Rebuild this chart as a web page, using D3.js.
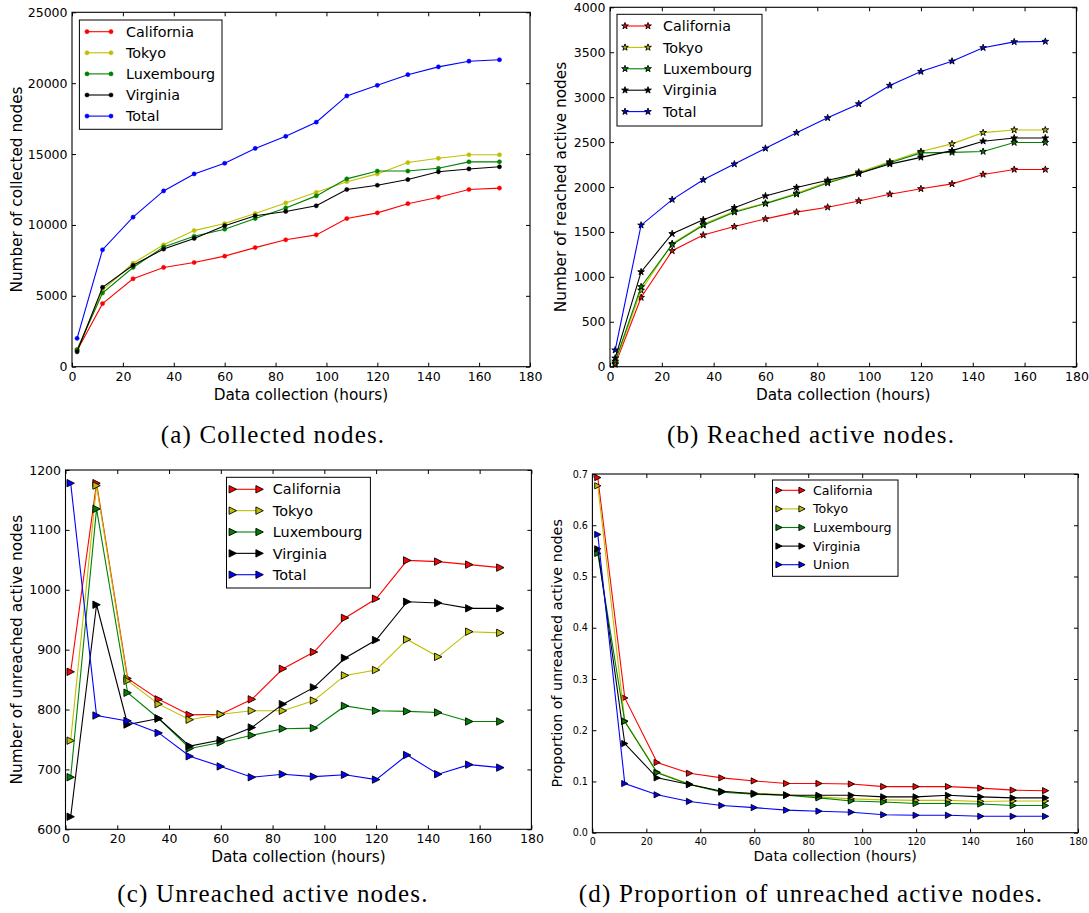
<!DOCTYPE html>
<html>
<head>
<meta charset="utf-8">
<script src="https://cdn.jsdelivr.net/npm/d3@7"></script>
<style>
  body { margin: 0; background: #fff; }
  svg { display: block; }
</style>
</head>
<body>
<svg id="fig" width="1089" height="913"></svg>
<script>
// Sampling times (hours since the start of data collection)
const hours = [2, 12, 24, 36, 48, 60, 72, 84, 96, 108, 120, 132, 144, 156, 168];
const xTickValues = [0, 20, 40, 60, 80, 100, 120, 140, 160, 180];

// (a) collected nodes
const collectedCalifornia = [1150, 4450, 6200, 7000, 7350, 7800, 8400, 8950, 9300, 10450, 10850, 11500, 11950, 12500, 12600];
const collectedTokyo      = [1200, 5400, 7300, 8600, 9600, 10100, 10800, 11550, 12300, 13050, 13600, 14400, 14700, 14950, 14950];
const collectedLuxembourg = [1200, 5200, 7000, 8450, 9200, 9700, 10450, 11200, 12050, 13250, 13800, 13800, 14000, 14450, 14450];
const collectedVirginia   = [1050, 5600, 7150, 8300, 9050, 9950, 10650, 10950, 11350, 12500, 12800, 13200, 13750, 13950, 14100];
const collectedTotal      = [2000, 8250, 10550, 12400, 13600, 14350, 15400, 16250, 17250, 19100, 19850, 20600, 21150, 21550, 21650];
const collectedYTicks = [0, 5000, 10000, 15000, 20000, 25000];

// (b) reached active nodes
const reachedCalifornia = [25, 770, 1290, 1465, 1560, 1645, 1720, 1775, 1845, 1920, 1980, 2035, 2140, 2195, 2195];
const reachedTokyo      = [40, 850, 1370, 1585, 1730, 1820, 1930, 2055, 2165, 2280, 2395, 2480, 2605, 2635, 2635];
const reachedLuxembourg = [60, 890, 1360, 1575, 1720, 1815, 1920, 2045, 2150, 2270, 2380, 2385, 2395, 2495, 2495];
const reachedVirginia   = [95, 1055, 1480, 1635, 1770, 1900, 1995, 2075, 2150, 2255, 2330, 2405, 2510, 2545, 2545];
const reachedTotal      = [185, 1575, 1860, 2080, 2255, 2430, 2605, 2770, 2925, 3130, 3285, 3400, 3550, 3615, 3620];
const reachedYTicks = [0, 500, 1000, 1500, 2000, 2500, 3000, 3500, 4000];

// (c) unreached active nodes
const unreachedCalifornia = [863, 1178, 852, 817, 791, 792, 817, 868, 896, 953, 985, 1049, 1047, 1042, 1037];
const unreachedTokyo      = [748, 1174, 848, 809, 783, 792, 798, 798, 815, 857, 866, 917, 888, 930, 928];
const unreachedLuxembourg = [687, 1135, 828, 785, 735, 745, 757, 768, 769, 806, 798, 797, 795, 780, 780];
const unreachedVirginia   = [621, 975, 775, 785, 739, 749, 770, 809, 837, 886, 916, 980, 978, 969, 969];
const unreachedTotal      = [1178, 790, 781, 761, 722, 705, 687, 692, 688, 691, 683, 724, 692, 708, 703];
const unreachedYTicks = [600, 700, 800, 900, 1000, 1100, 1200];

// (d) proportion of unreached active nodes
const proportionCalifornia = [0.693, 0.263, 0.137, 0.116, 0.107, 0.101, 0.096, 0.096, 0.095, 0.090, 0.090, 0.090, 0.087, 0.083, 0.082];
const proportionTokyo      = [0.677, 0.218, 0.118, 0.095, 0.080, 0.077, 0.074, 0.070, 0.066, 0.064, 0.063, 0.063, 0.061, 0.062, 0.062];
const proportionLuxembourg = [0.545, 0.217, 0.117, 0.094, 0.079, 0.075, 0.073, 0.068, 0.062, 0.060, 0.057, 0.057, 0.056, 0.053, 0.053];
const proportionVirginia   = [0.554, 0.174, 0.107, 0.094, 0.081, 0.076, 0.073, 0.073, 0.073, 0.070, 0.070, 0.073, 0.070, 0.068, 0.068];
const proportionUnion      = [0.582, 0.096, 0.074, 0.061, 0.053, 0.049, 0.044, 0.042, 0.040, 0.035, 0.034, 0.034, 0.032, 0.032, 0.032];
const proportionYTicks = [0, 0.1, 0.2, 0.3, 0.4, 0.5, 0.6, 0.7];

const namesWithTotal = ["California", "Tokyo", "Luxembourg", "Virginia", "Total"];
const namesWithUnion = ["California", "Tokyo", "Luxembourg", "Virginia", "Union"];
const seriesColors = ["#ff0000", "#bfbf00", "#008000", "#000000", "#0000ff"];

const xLabelText = "Data collection (hours)";
const captions = [
  "(a) Collected nodes.",
  "(b) Reached active nodes.",
  "(c) Unreached active nodes.",
  "(d) Proportion of unreached active nodes."
];

const SANS = "'DejaVu Sans', sans-serif";
const SERIF = "'Liberation Serif', 'Times New Roman', serif";
const svg = d3.select("#fig");

// Panel layout and styling
const panels = [
  {
    box: { left: 72, right: 530, top: 12.3, bottom: 366.7 },
    yDomain: [0, 25000], yTicks: collectedYTicks, yFormat: d3.format("d"),
    yLabel: "Number of collected nodes", yLabelX: 22,
    series: [collectedCalifornia, collectedTokyo, collectedLuxembourg, collectedVirginia, collectedTotal],
    names: namesWithTotal, marker: "dot", markerSize: 2.1,
    tickFont: 12.5, labelFont: 15.3, legendFont: 14.3,
    xPad: 5.4, xLabelDy: 33.3,
    legend: { x0: 79.4, x1: 222, y0: 20, y1: 129.3, line0: 87, line1: 111, textX: 126, row0: 31.7, step: 21.1 }
  },
  {
    box: { left: 610, right: 1076.4, top: 7.3, bottom: 366.7 },
    yDomain: [0, 4000], yTicks: reachedYTicks, yFormat: d3.format("d"),
    yLabel: "Number of reached active nodes", yLabelX: 566,
    series: [reachedCalifornia, reachedTokyo, reachedLuxembourg, reachedVirginia, reachedTotal],
    names: namesWithTotal, marker: "star", markerSize: 14,
    tickFont: 12.5, labelFont: 15.3, legendFont: 14.3,
    xPad: 5.4, xLabelDy: 33.3,
    legend: { x0: 617, x1: 762, y0: 14.3, y1: 126, line0: 625, line1: 648, textX: 663, row0: 26, step: 21.4 }
  },
  {
    box: { left: 65.5, right: 531.4, top: 470, bottom: 829.3 },
    yDomain: [600, 1200], yTicks: unreachedYTicks, yFormat: d3.format("d"),
    yLabel: "Number of unreached active nodes", yLabelX: 22,
    series: [unreachedCalifornia, unreachedTokyo, unreachedLuxembourg, unreachedVirginia, unreachedTotal],
    names: namesWithTotal, marker: "tri", markerSize: 3.7,
    tickFont: 12.5, labelFont: 15.3, legendFont: 14.4,
    xPad: 5.3, xLabelDy: 32.7,
    legend: { x0: 226.5, x1: 370.4, y0: 477.3, y1: 588, line0: 232.8, line1: 259.6, textX: 272.8, row0: 489.3, step: 21.35 }
  },
  {
    box: { left: 592.4, right: 1078, top: 474, bottom: 832.7 },
    yDomain: [0, 0.7], yTicks: proportionYTicks, yFormat: d3.format(".1f"),
    yLabel: "Proportion of unreached active nodes", yLabelX: 562,
    series: [proportionCalifornia, proportionTokyo, proportionLuxembourg, proportionVirginia, proportionUnion],
    names: namesWithUnion, marker: "tri", markerSize: 3.1,
    tickFont: 9.6, labelFont: 14.3, legendFont: 12.6,
    xPad: 5.0, xLabelDy: 28.3,
    legend: { x0: 772.5, x1: 898, y0: 480, y1: 576.3, line0: 779, line1: 802, textX: 813, row0: 490.3, step: 18.6 }
  }
];

function triangleRight(h) {
  return `M${h},0L${-h},${-h}L${-h},${h}Z`;
}

function drawMarker(sel, kind, size, color) {
  if (kind === "dot") {
    sel.append("circle").attr("r", size).attr("fill", color).attr("stroke", color).attr("stroke-width", 0.5);
  } else if (kind === "star") {
    sel.append("path").attr("d", d3.symbol(d3.symbolStar, size)())
      .attr("fill", color).attr("stroke", "#000").attr("stroke-width", 0.9);
  } else {
    sel.append("path").attr("d", triangleRight(size))
      .attr("fill", color).attr("stroke", "#000").attr("stroke-width", 0.9);
  }
}

function styleAxis(g, fontSize) {
  g.attr("font-family", SANS).attr("font-size", fontSize);
  g.select(".domain").remove();
  g.selectAll(".tick line").attr("stroke", "#000").attr("stroke-width", 1);
}

function drawPanel(p) {
  const b = p.box;
  const g = svg.append("g");
  const x = d3.scaleLinear().domain([0, 180]).range([b.left, b.right]);
  const y = d3.scaleLinear().domain(p.yDomain).range([b.bottom, b.top]);

  // inward ticks on all four sides
  g.append("g").attr("transform", `translate(0,${b.bottom})`)
    .call(d3.axisBottom(x).tickValues(xTickValues).tickSize(-4).tickSizeOuter(0).tickPadding(p.xPad))
    .call(a => styleAxis(a, p.tickFont));
  g.append("g").attr("transform", `translate(0,${b.top})`)
    .call(d3.axisTop(x).tickValues(xTickValues).tickSize(-4).tickSizeOuter(0).tickFormat(""))
    .call(a => styleAxis(a, p.tickFont));
  g.append("g").attr("transform", `translate(${b.left},0)`)
    .call(d3.axisLeft(y).tickValues(p.yTicks).tickSize(-4).tickSizeOuter(0).tickPadding(4.5).tickFormat(p.yFormat))
    .call(a => styleAxis(a, p.tickFont));
  g.append("g").attr("transform", `translate(${b.right},0)`)
    .call(d3.axisRight(y).tickValues(p.yTicks).tickSize(-4).tickSizeOuter(0).tickFormat(""))
    .call(a => styleAxis(a, p.tickFont));

  // series: line then markers, in plotting order
  const line = d3.line().x(d => x(d[0])).y(d => y(d[1]));
  p.series.forEach((vals, i) => {
    const pts = hours.map((h, j) => [h, vals[j]]);
    const sg = g.append("g");
    sg.append("path").attr("d", line(pts)).attr("fill", "none")
      .attr("stroke", seriesColors[i]).attr("stroke-width", 1.1);
    pts.forEach(pt => {
      const m = sg.append("g").attr("transform", `translate(${x(pt[0])},${y(pt[1])})`);
      drawMarker(m, p.marker, p.markerSize, seriesColors[i]);
    });
  });

  // frame
  g.append("rect").attr("x", b.left).attr("y", b.top)
    .attr("width", b.right - b.left).attr("height", b.bottom - b.top)
    .attr("fill", "none").attr("stroke", "#000").attr("stroke-width", 1.1);

  // axis labels
  g.append("text").attr("x", (b.left + b.right) / 2).attr("y", b.bottom + p.xLabelDy)
    .attr("text-anchor", "middle").attr("font-family", SANS).attr("font-size", p.labelFont)
    .text(xLabelText);
  g.append("text")
    .attr("transform", `translate(${p.yLabelX},${(b.top + b.bottom) / 2}) rotate(-90)`)
    .attr("text-anchor", "middle").attr("font-family", SANS).attr("font-size", p.labelFont)
    .text(p.yLabel);

  // legend
  const L = p.legend;
  const lg = g.append("g");
  lg.append("rect").attr("x", L.x0).attr("y", L.y0).attr("width", L.x1 - L.x0).attr("height", L.y1 - L.y0)
    .attr("fill", "#fff").attr("stroke", "#000").attr("stroke-width", 1);
  p.names.forEach((name, i) => {
    const ry = L.row0 + i * L.step;
    lg.append("line").attr("x1", L.line0).attr("x2", L.line1).attr("y1", ry).attr("y2", ry)
      .attr("stroke", seriesColors[i]).attr("stroke-width", 1.1);
    [L.line0, L.line1].forEach(mx => {
      const m = lg.append("g").attr("transform", `translate(${mx},${ry})`);
      drawMarker(m, p.marker, p.markerSize, seriesColors[i]);
    });
    lg.append("text").attr("x", L.textX).attr("y", ry).attr("dy", "0.36em")
      .attr("font-family", SANS).attr("font-size", p.legendFont).text(name);
  });
}

panels.forEach(drawPanel);

// sub-figure captions
const captionPos = [[273, 443], [811, 443], [273, 902], [811, 902]];
captions.forEach((c, i) => {
  svg.append("text").attr("x", captionPos[i][0]).attr("y", captionPos[i][1])
    .attr("text-anchor", "middle").attr("font-family", SERIF).attr("font-size", 25)
    .attr("letter-spacing", 1.2).text(c);
});
</script>
</body>
</html>
